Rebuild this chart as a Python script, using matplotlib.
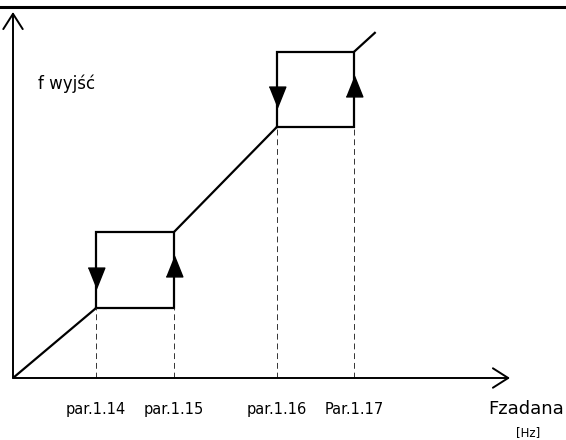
import matplotlib
matplotlib.use("Agg")
import matplotlib.pyplot as plt

# skip-frequency hysteresis diagram (units: % of axis range)
par_labels = ["par.1.14", "par.1.15", "par.1.16", "Par.1.17"]
par_x = [16.7, 32.4, 53.1, 68.6]          # threshold frequencies
box_low = [19.1, 68.6]                     # output level at lower edge of each band
box_high = [39.9, 89.1]                    # output level at upper edge of each band
end_point = (72.8, 94.3)                   # last point of the characteristic
y_label = "f wyjść"
x_label = "Fzadana"
x_unit = "[Hz]"

plt.rcParams['font.family'] = ['DejaVu Sans']

fig = plt.figure(figsize=(5.66, 4.40), dpi=100)
ax = fig.add_axes([13 / 566, 62 / 440, 497 / 566, 366 / 440])
ax.set_xlim(0, 100)
ax.set_ylim(0, 100)
ax.axis('off')

lw = 1.6
col = 'black'

# rising segments between the bands
ax.plot([0, par_x[0]], [0, box_low[0]], color=col, lw=lw)
ax.plot([par_x[1], par_x[2]], [box_high[0], box_low[1]], color=col, lw=lw)
ax.plot([par_x[3], end_point[0]], [box_high[1], end_point[1]], color=col, lw=lw)

# hysteresis rectangles
down = [(-0.4, 0.5), (0.4, 0.5), (0, -0.5)]
up = [(-0.4, -0.5), (0.4, -0.5), (0, 0.5)]
for i in range(2):
    x0, x1 = par_x[2 * i], par_x[2 * i + 1]
    lo, hi = box_low[i], box_high[i]
    ax.plot([x0, x0, x1, x1, x0], [lo, hi, hi, lo, lo], color=col, lw=lw,
            solid_joinstyle='miter')
    # dashed guides down to the axis
    ax.plot([x0, x0], [0, lo], color='#333333', lw=0.7, ls=(0, (6, 4)))
    ax.plot([x1, x1], [0, lo], color='#333333', lw=0.7, ls=(0, (6, 4)))
    # direction arrows on the sides
    h = hi - lo
    ax.plot([x0], [lo + 0.40 * h], marker=down, markersize=15, color=col, lw=0)
    ax.plot([x1], [lo + 0.55 * h], marker=up, markersize=15, color=col, lw=0)

# axes with open arrow heads
arrow = dict(arrowstyle='->,head_length=0.55,head_width=0.35', color=col, lw=1.4,
             shrinkA=0, shrinkB=0, mutation_scale=20)
ax.annotate('', xy=(0, 100), xytext=(0, 0), arrowprops=arrow, annotation_clip=False)
ax.annotate('', xy=(100, 0), xytext=(0, 0), arrowprops=arrow, annotation_clip=False)

# labels
for x, lab in zip(par_x, par_labels):
    ax.text(x, -8.7, lab, ha='center', va='center', fontsize=10.5)
ax.text(5.1, 80.3, y_label, ha='left', va='center', fontsize=12)
fig.text(564 / 566, 1 - 409 / 440, x_label, ha='right', va='center', fontsize=13)
fig.text(528 / 566, 1 - 433 / 440, x_unit, ha='center', va='center', fontsize=8.5)

# rule at the top of the page
fig.add_artist(plt.Line2D([0, 1], [1 - 7 / 440, 1 - 7 / 440], color=col, lw=2.2))

fig.savefig("out.png", dpi=100)
